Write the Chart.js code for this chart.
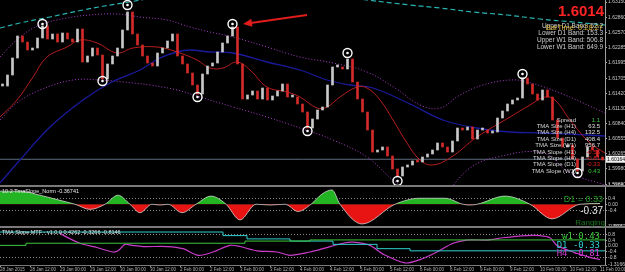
<!DOCTYPE html>
<html>
<head>
<meta charset="utf-8">
<script src="https://cdn.jsdelivr.net/npm/chart.js@4.4.1/dist/chart.umd.min.js"></script>
<style>
html, body { margin: 0; padding: 0; background: #000; }
#wrap { width: 625px; height: 272px; position: relative; }
</style>
</head>
<body>
<div id="wrap"><canvas id="c"></canvas></div>
<script>
// closes per bar (price)
const closes = [
  1.61556,1.61765,1.62088,1.62506,1.62392,1.62240,1.62278,1.62468,1.62696,1.62449,
  1.62544,1.62392,1.62563,1.62449,1.62392,1.62639,1.62012,1.62126,1.62278,1.62145,
  1.61689,1.61974,1.62126,1.62278,1.62620,1.62962,1.62544,1.62335,1.62126,1.61993,
  1.61936,1.62183,1.62278,1.62411,1.62544,1.62126,1.61974,1.61803,1.61575,1.61404,
  1.61784,1.61936,1.61993,1.62202,1.62373,1.62506,1.62677,1.61974,1.61309,1.61385,
  1.61461,1.61309,1.61518,1.61290,1.61366,1.61461,1.61594,1.61347,1.61347,1.61214,
  1.61062,1.60758,1.60929,1.61100,1.61157,1.61575,1.61917,1.61917,1.61879,1.62069,
  1.61632,1.61309,1.61062,1.60720,1.60302,1.60340,1.60397,1.60226,1.59979,1.59846,
  1.60017,1.60055,1.60131,1.60112,1.60207,1.60264,1.60340,1.60473,1.60397,1.60302,
  1.60511,1.60758,1.60720,1.60777,1.60549,1.60720,1.60720,1.60663,1.60682,1.60948,
  1.61081,1.61214,1.61290,1.61328,1.61708,1.61594,1.61404,1.61290,1.61480,1.61347,
  1.60910,1.60568,1.60397,1.60435,1.60169,1.59941,1.60207,1.60397,1.60340,1.60207,
  1.60150
];

// [bar index, price]
const maBlue = [[-0.5,1.59713],[3.5,1.60150],[9.5,1.60777],[16.1,1.61290],[21.5,1.61613],[27.5,1.61860],
  [31.5,1.62088],[34.9,1.62202],[37.5,1.62240],[41.5,1.62202],[46.1,1.62183],[52.9,1.62012],[59.5,1.61860],
  [64.9,1.61670],[69.5,1.61575],[74.1,1.61518],[81.5,1.61214],[88.1,1.60910],[94.9,1.60758],[101.5,1.60682],
  [108.1,1.60663],[116.9,1.60625],[120.5,1.60606]];
const maRed = [[-0.5,1.60967],[2.9,1.61290],[6.1,1.61727],[8.9,1.62107],[12.9,1.62297],[15.5,1.62430],
  [18.9,1.62373],[22.9,1.62183],[26.1,1.62278],[30.9,1.62297],[34.9,1.62202],[38.9,1.62050],[41.5,1.61898],
  [44.1,1.61898],[46.9,1.62012],[49.5,1.61860],[52.9,1.61537],[56.9,1.61442],[59.5,1.61347],[62.9,1.61138],
  [64.9,1.61157],[67.5,1.61347],[70.9,1.61537],[72.9,1.61518],[75.5,1.61290],[78.1,1.60910],[80.9,1.60473],
  [83.5,1.60150],[85.9,1.60055],[89.5,1.60188],[94.9,1.60587],[101.5,1.60967],[105.5,1.61195],[108.5,1.61347],
  [110.5,1.61290],[113.5,1.60910],[117.5,1.60473],[120.5,1.60283]];
const bandUpper = [[-0.5,1.62107],[3.5,1.62487],[7.5,1.62715],[12.9,1.62848],[17.5,1.62905],[22.9,1.62924],
  [27.5,1.62867],[32.9,1.62810],[37.5,1.62677],[41.5,1.62582],[46.1,1.62487],[52.9,1.62297],[59.5,1.62107],
  [66.1,1.61993],[72.9,1.61822],[78.5,1.61518],[83.5,1.61195],[87.5,1.61138],[91.5,1.61385],[96.1,1.61575],
  [101.5,1.61670],[104.9,1.61632],[111.5,1.61423],[120.5,1.61043]];
const bandLower = [[-0.5,1.60910],[2.9,1.61233],[7.5,1.61480],[14.1,1.61670],[19.5,1.61670],[24.1,1.61632],
  [29.5,1.61575],[34.9,1.61480],[39.5,1.61347],[46.1,1.61157],[52.9,1.60967],[59.5,1.60758],[66.1,1.60530],
  [72.9,1.60207],[78.1,1.59770],[81.5,1.59580],[87.5,1.59485],[93.5,1.59998],[98.9,1.60207],[108.1,1.60283],
  [113.5,1.59903],[120.5,1.59675]];
const bandW1 = [[-0.5,1.62658],[3.5,1.62753],[9.5,1.62867],[16.1,1.63000],[24.1,1.63133],[48.5,1.63475],
  [72.9,1.63190],[81.5,1.63095],[87.5,1.63038],[94.1,1.62962],[100.9,1.62905],[107.5,1.62829],
  [114.1,1.62772],[120.5,1.62715]];
const swings = [[8,1.62734],[20,1.61651],[25,1.63095],[39,1.61347],[46,1.62734],[61,1.60701],
  [69,1.62183],[79,1.59751],[104,1.61784],[115,1.59903]];
const arrow = [[60.9,1.62905],[48.1,1.62734]];
const bidPrice = 1.60164;

// TmaSlope_Norm pane
const slopeNorm = [[-0.5,0.87],[3.5,0.87],[7.5,0.6],[11.5,0.26],[14.5,0],[17.5,-0.34],[20.5,0],[23.1,0.6],
  [25.5,0],[27.5,-0.56],[29.9,0],[31.5,-0.05],[33.1,0],[35.9,-0.56],[38.7,0],[41.7,0.54],[44.7,0],[47.5,-1.04],
  [50.7,0],[53.5,-0.05],[56.5,0],[59.1,-0.48],[61.7,0],[63.9,0.68],[65.9,0.95],[67.5,0],[71.9,-1.31],[78.5,0],
  [83.5,0.4],[88.5,0.4],[92.1,0],[93.5,-0.05],[94.9,0],[100.5,0.54],[105.5,0],[109.9,-0.97],[115.5,0],[119.5,0.05]];

// TMA Slope MTF pane
const slopeW1 = [[-0.5,0.05],[4.7,0.2],[48.5,0.35],[61.5,0.43],[120.5,0.43]];
const slopeD1 = [[-0.5,0.98],[44.1,0.73],[48.9,0.5],[57.5,0.35],[66.1,0.12],[74.9,-0.18],[81.5,-0.33],[120.5,-0.33]];
const slopeH4 = [[11.5,0.95],[11.9,0.8],[15.5,0.2],[18.9,-0.1],[22.1,-0.41],[23.1,-0.33],[24.5,0.12],[25.9,0.05],
  [28.1,-0.03],[32.9,-0.03],[36.1,-0.18],[39.1,-0.64],[42.1,-0.41],[45.5,0.05],[47.5,-0.03],[50.9,-0.33],
  [54.9,-0.41],[57.5,-0.64],[61.5,-0.41],[64.1,-0.18],[68.1,0.2],[70.1,0.27],[73.5,0.05],[76.1,-0.56],
  [80.5,-1.17],[83.5,-0.94],[86.9,-0.41],[90.1,0.2],[92.9,0.42],[96.9,0.42],[100.1,0.58],[104.9,0.73],
  [107.5,0.73],[109.5,0.58],[110.9,0.05],[114.1,-0.41],[117.5,-0.79],[119.5,-0.94]];

// axes
const priceTicks = [1.63150,1.62860,1.62570,1.62285,1.61995,1.61705,1.61420,1.61130,1.60840,1.60555,1.60265,1.59980,1.59690];
const normTicks = [1.2108,0.4,0,-0.4,-1.5087];
const normLabels = ['1.2108','0.4','0.00','-0.4','-1.5087'];
const mtfTicks = [1.3301,0.8,0.4,0,-0.4,-0.8,-1.3166];
const mtfLabels = ['1.3301','0.8','0.4','0.00','-0.4','-0.8','-1.3166'];
const timeTicks = [-0.5,5.5,11.5,17.5,23.5,29.5,35.5,41.5,47.5,53.5,59.5,65.5,71.5,77.5,83.5,89.5,95.5,101.5,107.5,113.5,119.5];
const timeLabels = ['28 Jan 2015','28 Jan 12:00','29 Jan 00:00','29 Jan 12:00','30 Jan 00:00','30 Jan 12:00',
  '2 Feb 00:00','2 Feb 12:00','3 Feb 00:00','3 Feb 12:00','4 Feb 00:00','4 Feb 12:00','5 Feb 00:00','5 Feb 12:00',
  '6 Feb 00:00','6 Feb 12:00','9 Feb 00:00','9 Feb 12:00','10 Feb 00:00','10 Feb 12:00','11 Feb 00:00'];

// texts
const bigPrice = '1.6014';
const barTime = 'BarTime: 0:28:27';
const bandInfo = ['Upper D1 Band: 52.2','Lower D1 Band: 153.3','Upper W1 Band: 506.8','Lower W1 Band: 649.9'];
const statNames = ['Spread','TMA Size (H1)','TMA Size (H4)','TMA Size (D1)','TMA Size (W1)',
  'TMA Slope (H1)','TMA Slope (H4)','TMA Slope (D1)','TMA Slope (W1)'];
const statValues = ['1.1','63.5','132.5','408.4','956.7','-0.56','-0.81','-0.33','0.43'];
const statColors = ['#3cc83c','#e0e0e0','#e0e0e0','#e0e0e0','#e0e0e0','#e02020','#e02020','#e02020','#3cc83c'];
const normTitle = '10.2 TmaSlope_Norm -0.36741';
const mtfTitle = 'TMA Slope MTF - v1.0.0 0.4262 -0.3266 -0.8146';
const mtfNames = ['w1 0.43','D1 -0.33','H4 -0.81'];
const mtfColors = ['#3cc83c','#30d0d0','#d23cd2'];

const pts = a => a.map(p => ({x: p[0], y: p[1]}));
const candles = closes.map((c, i) => ({x: i, y: [i ? closes[i - 1] : c, c]}));
const candleColors = candles.map(d => d.y[1] >= d.y[0] ? '#c8c8c8' : '#d42a2a');
const FONT = '"Liberation Sans", Arial, sans-serif';

function line(data, color, extra) {
  return Object.assign({
    type: 'line', data: pts(data), borderColor: color, borderWidth: 1, pointRadius: 0,
    tension: 0.4, yAxisID: 'y', fill: false
  }, extra || {});
}

const overlay = {
  id: 'overlay',
  beforeDraw(chart) {
    const ctx = chart.ctx;
    ctx.save();
    ctx.fillStyle = '#000';
    ctx.fillRect(0, 0, chart.width, chart.height);
    ctx.restore();
  },
  afterDatasetsDraw(chart) {
    const {ctx, scales} = chart;
    const x = scales.x, y = scales.y;
    // arrow
    const x0 = x.getPixelForValue(arrow[0][0]), y0 = y.getPixelForValue(arrow[0][1]);
    const x1 = x.getPixelForValue(arrow[1][0]), y1 = y.getPixelForValue(arrow[1][1]);
    const ang = Math.atan2(y1 - y0, x1 - x0);
    ctx.save();
    ctx.strokeStyle = '#e01c1c'; ctx.fillStyle = '#e01c1c'; ctx.lineWidth = 2;
    ctx.beginPath(); ctx.moveTo(x0, y0);
    ctx.lineTo(x1 - 6 * Math.cos(ang), y1 - 6 * Math.sin(ang)); ctx.stroke();
    ctx.beginPath(); ctx.moveTo(x1, y1);
    ctx.lineTo(x1 - 9 * Math.cos(ang) + 4 * Math.sin(ang), y1 - 9 * Math.sin(ang) - 4 * Math.cos(ang));
    ctx.lineTo(x1 - 9 * Math.cos(ang) - 4 * Math.sin(ang), y1 - 9 * Math.sin(ang) + 4 * Math.cos(ang));
    ctx.closePath(); ctx.fill();
    ctx.restore();
  },
  afterDraw(chart) {
    const {ctx, chartArea, scales} = chart;
    ctx.save();
    // pane separators
    ctx.fillStyle = '#7a7a7a';
    [scales.y1.top, scales.y2.top].forEach(t => ctx.fillRect(0, t - 1, chart.width, 2));
    ctx.fillRect(0, chartArea.bottom, chartArea.right + 1, 1);

    // current price tag
    const by = scales.y.getPixelForValue(bidPrice);
    ctx.fillStyle = '#f0f0f0';
    ctx.fillRect(chartArea.right + 1, by - 3.5, 19, 7);
    ctx.fillStyle = '#000'; ctx.font = '5px ' + FONT;
    ctx.textBaseline = 'middle'; ctx.textAlign = 'left';
    ctx.fillText(bidPrice.toFixed(5), chartArea.right + 2, by);

    ctx.textAlign = 'right';
    ctx.fillStyle = '#ff2424'; ctx.font = 'bold 15px ' + FONT;
    ctx.fillText(bigPrice, 604, 12);

    ctx.font = '6.5px ' + FONT; ctx.fillStyle = '#cfcfcf';
    bandInfo.forEach((t, i) => ctx.fillText(t, 603, 26 + i * 7));
    ctx.font = '7.5px ' + FONT; ctx.fillStyle = '#d8b43a';
    ctx.fillText(barTime, 603, 28);

    ctx.font = '6px ' + FONT;
    statNames.forEach((t, i) => {
      const yy = 120 + i * 6.4;
      ctx.fillStyle = '#d8d8d8'; ctx.fillText(t, 576, yy);
      ctx.fillStyle = statColors[i]; ctx.fillText(statValues[i], 600, yy);
    });

    // sub pane titles
    ctx.textAlign = 'left'; ctx.fillStyle = '#e8e8e8'; ctx.font = '5.5px ' + FONT;
    ctx.fillText(normTitle, 2, scales.y1.top + 5);
    ctx.fillText(mtfTitle, 2, scales.y2.top + 5);

    ctx.textAlign = 'right';
    ctx.font = '9px ' + FONT; ctx.fillStyle = '#1f9a1f';
    ctx.fillText('D1 = 0.33', 603, 200);
    ctx.font = '10px ' + FONT; ctx.fillStyle = '#e8e8e8';
    ctx.fillText('-0.37', 603, 211);
    ctx.font = '8px ' + FONT; ctx.fillStyle = '#1c7a1c';
    ctx.fillText('Ranging', 605, 223);

    ctx.font = '9px "DejaVu Sans Mono", monospace';
    mtfNames.forEach((t, i) => { ctx.fillStyle = mtfColors[i]; ctx.fillText(t, 600, 237 + i * 8.5); });
    ctx.restore();
  }
};

const tickFont = {family: FONT, size: 5};
function paneAxis(weight, min, max, vals, labels, dotted) {
  return {
    type: 'linear', position: 'right', stack: 'panes', stackWeight: weight, min: min, max: max,
    afterBuildTicks: s => { s.ticks = vals.map(v => ({value: v})); },
    afterFit: s => { s.width = 20; s.paddingTop = 0; s.paddingBottom = 0; },
    ticks: {
      autoSkip: false, padding: 1, color: '#c8c8c8', font: tickFont,
      callback: (v, i) => labels ? labels[i] : v.toFixed(5)
    },
    grid: {
      drawOnChartArea: !!dotted, tickLength: 2, tickColor: '#a0a0a0',
      color: c => dotted && c.tick && dotted.includes(c.tick.value) ? '#8a8a8a' : 'rgba(0,0,0,0)'
    },
    border: {display: true, color: '#a0a0a0', dash: [1, 2]}
  };
}

new Chart(document.getElementById('c'), {
  data: {
    datasets: [
      {type: 'scatter', data: pts(swings), yAxisID: 'y', pointRadius: 1.3, pointBackgroundColor: '#fff',
       pointBorderWidth: 0, order: 0},
      {type: 'scatter', data: pts(swings), yAxisID: 'y', pointRadius: 4.5, pointBackgroundColor: 'rgba(0,0,0,0)',
       pointBorderColor: '#fff', pointBorderWidth: 1.4, order: 1},
      {type: 'bar', data: candles, yAxisID: 'y', backgroundColor: candleColors, barThickness: 2,
       grouped: false, minBarLength: 2, order: 3},
      line(maRed, '#b41e1e', {order: 4}),
      line(maBlue, '#1a1a9c', {order: 5, borderWidth: 1.3}),
      line(bandUpper, '#a83cc8', {order: 6, borderDash: [1, 2]}),
      line(bandLower, '#a83cc8', {order: 6, borderDash: [1, 2]}),
      line(bandW1, '#2ab4b4', {order: 6, borderDash: [5, 3], borderWidth: 1.2}),
      line([[-0.5, bidPrice], [120.5, bidPrice]], '#5e6e80', {order: 7, tension: 0}),
      {type: 'line', data: pts(slopeNorm), yAxisID: 'y1', borderColor: 'rgba(230,230,230,0.7)', borderWidth: 1,
       pointRadius: 0, cubicInterpolationMode: 'monotone',
       fill: {target: 'origin', above: '#22b422', below: '#e81414'}, order: 8},
      {type: 'line', data: pts(slopeW1), yAxisID: 'y2', borderColor: '#3cc83c', borderWidth: 1,
       pointRadius: 0, stepped: true, order: 9},
      {type: 'line', data: pts(slopeD1), yAxisID: 'y2', borderColor: '#30d0d0', borderWidth: 1,
       pointRadius: 0, stepped: true, order: 9},
      {type: 'line', data: pts(slopeH4), yAxisID: 'y2', borderColor: '#c83cc8', borderWidth: 1.2,
       pointRadius: 0, tension: 0.3, order: 9}
    ]
  },
  options: {
    responsive: true, maintainAspectRatio: false, animation: false,
    layout: {padding: 0, autoPadding: false},
    plugins: {legend: {display: false}, tooltip: {enabled: false}},
    scales: {
      x: {
        type: 'linear', position: 'bottom', min: -0.5, max: 120.5, offset: false,
        afterBuildTicks: s => { s.ticks = timeTicks.map(v => ({value: v})); },
        afterFit: s => { s.height = 7; s.paddingLeft = 0; s.paddingRight = 0; },
        ticks: {autoSkip: false, maxRotation: 0, align: 'start', padding: 0, color: '#b4b4b4',
                font: {family: FONT, size: 4.5}, callback: (v, i) => timeLabels[i]},
        grid: {drawOnChartArea: false, tickLength: 2, color: '#a0a0a0', offset: false},
        border: {display: true, color: '#a0a0a0'}
      },
      y: paneAxis(186, 1.59656, 1.63190, priceTicks, null, null),
      y1: paneAxis(41, -1.5087, 1.2108, normTicks, normLabels, [0.4, -0.4]),
      y2: paneAxis(38, -1.3166, 1.3301, mtfTicks, mtfLabels, [0.8, -0.8])
    }
  },
  plugins: [overlay]
});
</script>
</body>
</html>
